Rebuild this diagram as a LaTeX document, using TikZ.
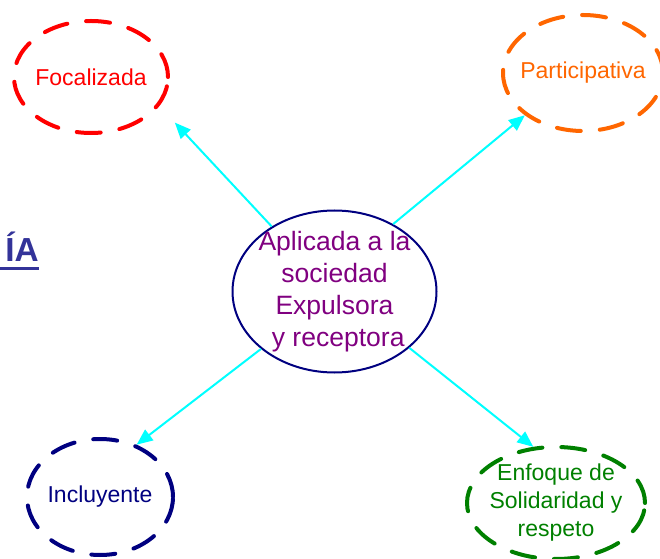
\documentclass[tikz,border=0pt]{standalone}
\usepackage{fontspec}
\setmainfont{Liberation Sans}
\usepackage{tikz}
\usetikzlibrary{shapes.geometric}
\usetikzlibrary{arrows.meta}

\definecolor{naranja}{HTML}{FF6600}
\definecolor{marino}{HTML}{000080}
\definecolor{morado}{HTML}{800080}
\definecolor{verde}{HTML}{008000}
\definecolor{cian}{HTML}{00FFFF}
\definecolor{titulo}{HTML}{333399}

\tikzset{
  burbuja/.style={ellipse, draw, line width=3pt, line cap=round,
    dash pattern=on 18pt off 14.25pt, inner sep=0pt},
  texto/.style={font=\fontsize{17.25pt}{21pt}\selectfont, align=center, inner sep=0pt},
  flecha/.style={draw=cian, line width=1.5pt, -{Triangle[length=12pt,width=10pt]}}
}

\begin{document}
\begin{tikzpicture}[x=0.75pt, y=-0.75pt]
\useasboundingbox (0,0) rectangle (660,559);

% title (cut at the left edge)
\node [anchor=base east, inner sep=0pt, text=titulo,
  font=\fontsize{25pt}{30pt}\selectfont\bfseries] (tit) at (39,262) {ÍA};
\draw [titulo, line width=2pt] ([yshift=-5pt, xshift=-20pt]tit.base west) -- ([yshift=-5pt]tit.base east);

% center
\node [ellipse, draw=marino, line width=1.5pt, inner sep=0pt,
  minimum width=153pt, minimum height=121.5pt] (centro) at (334.5,291.5) {};
\node [texto, text=morado, font=\fontsize{19.9pt}{24pt}\selectfont] (centro-t) at (centro)
  {Aplicada a la\\sociedad\\Expulsora\\\mbox{} y receptora};

% dashed bubbles
\node [burbuja, draw=red, minimum width=115.5pt, minimum height=84pt] (foco) at (91,77) {};
\node [texto, text=red] (foco-t) at (foco) {Focalizada};

\node [burbuja, draw=naranja, minimum width=120pt, minimum height=87pt] (parti) at (583,73) {};
\node [texto, text=naranja] (parti-t) at (parti) {Participativa};

\node [burbuja, draw=marino, minimum width=109.5pt, minimum height=87pt] (incl) at (100,497) {};
\node [texto, text=marino] (incl-t) at (incl) {Incluyente};

\node [burbuja, draw=verde, minimum width=133.5pt, minimum height=84pt] (enfo) at (556,503) {};
\node [texto, text=verde] (enfo-t) at (enfo) {Enfoque de\\Solidaridad y\\respeto};

% arrows
\draw [flecha, shorten >=17pt] (centro.134) -- (foco.-23);
\draw [flecha] (centro.49) -- (parti.216);
\draw [flecha] (centro.218) -- (incl.55);
\draw [flecha] (centro.-37) -- (enfo.112);

\end{tikzpicture}
\end{document}
